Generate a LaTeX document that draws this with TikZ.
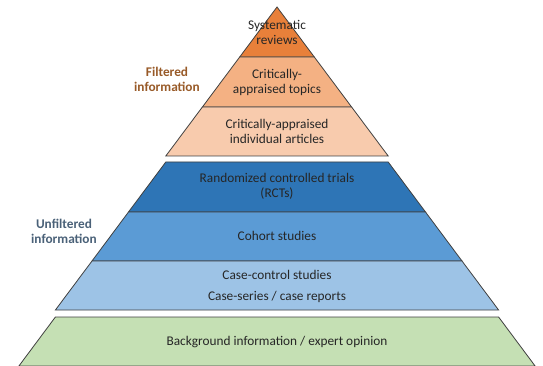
\documentclass[tikz,border=0pt]{standalone}
\usepackage{fontspec}
\setmainfont{Carlito}

\definecolor{sysorange}{HTML}{E8803A}
\definecolor{topicorange}{HTML}{F4B183}
\definecolor{articleorange}{HTML}{F8CBAD}
\definecolor{rctblue}{HTML}{2E75B6}
\definecolor{cohortblue}{HTML}{5B9BD5}
\definecolor{caseblue}{HTML}{9DC3E6}
\definecolor{bggreen}{HTML}{C5E0B4}
\definecolor{filterbrown}{HTML}{985A28}
\definecolor{unfilterblue}{HTML}{4A6178}
\definecolor{txtgray}{HTML}{262626}

\tikzset{
  band/.style={draw=black!75, line width=0.8pt, line join=miter},
  lbl/.style={anchor=center, align=center, text=txtgray, font=\fontsize{13.3}{15}\selectfont},
  side/.style={anchor=center, align=center, font=\fontsize{13.3}{15}\selectfont\bfseries}
}

\begin{document}
\begin{tikzpicture}[x=1pt, y=-1pt]
      \useasboundingbox (0,0) rectangle (543,366);
      % filtered part
      \filldraw[band, fill=sysorange] (277,7) -- (239.7,57) -- (314.3,57) -- cycle;
      \filldraw[band, fill=topicorange] (239.7,57) -- (202.4,107) -- (351.6,107) -- (314.3,57) -- cycle;
      \filldraw[band, fill=articleorange] (202.4,107) -- (165.8,156) -- (388.2,156) -- (351.6,107) -- cycle;
      % unfiltered part
      \filldraw[band, fill=rctblue] (165.8,162) -- (128.5,212) -- (425.5,212) -- (388.2,162) -- cycle;
      \filldraw[band, fill=cohortblue] (128.5,212) -- (92,261) -- (462,261) -- (425.5,212) -- cycle;
      \filldraw[band, fill=caseblue] (92,261) -- (55.4,310) -- (498.6,310) -- (462,261) -- cycle;
      % background
      \filldraw[band, fill=bggreen] (55.4,317) -- (18.9,366) -- (535.1,366) -- (498.6,317) -- cycle;

      \node[lbl] (sys) at (277,32.5) {Systematic\\reviews};
      \node[lbl] (topics) at (277,82.5) {Critically-\\appraised topics};
      \node[lbl] (articles) at (277,131) {Critically-appraised\\individual articles};
      \node[lbl] (rct) at (277,186.5) {Randomized controlled trials\\(RCTs)};
      \node[lbl] (cohort) at (277,236) {Cohort studies};
      \node[lbl] (casectrl) at (277,286.5) {Case-control studies\\[6pt]Case-series / case reports};
      \node[lbl] (background) at (277,342) {Background information / expert opinion};

      \node[side, text=filterbrown] (filtered) at (167,79.5) {Filtered\\information};
      \node[side, text=unfilterblue] (unfiltered) at (64,231.5) {Unfiltered\\information};
    \end{tikzpicture}
\end{document}
